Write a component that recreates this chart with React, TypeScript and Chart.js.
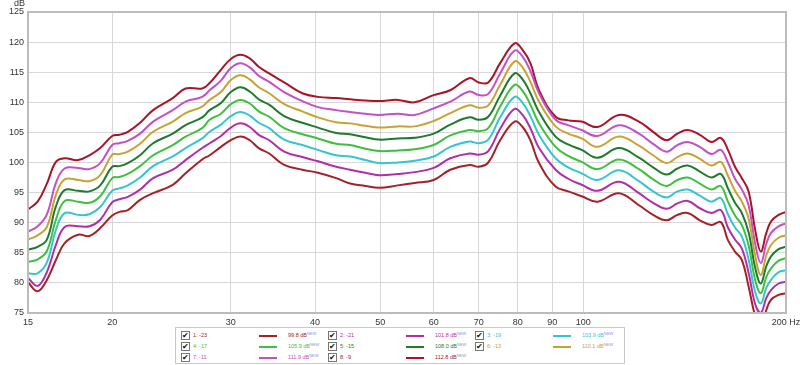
import React, { useEffect, useRef } from "react";
import { Chart, registerables } from "chart.js";

Chart.register(...registerables);

const freqs = [15, 15.5, 16, 16.5, 17, 17.8, 18.5, 19.2, 20, 20.5, 21.1, 22, 23, 24.6, 25.7, 27.2, 27.9, 29, 30, 31, 32, 33, 34.2, 36, 38.3, 40.4, 43, 45.1, 47.5, 49.8, 53.1, 56.2, 60, 63.5, 67.8, 70, 72.3, 75.3, 79.1, 81.3, 83.5, 86, 91, 95, 99.5, 105, 113, 121, 127, 133, 138, 143, 149, 155, 160, 164, 168, 172, 176, 180, 183.5, 187, 190, 195, 200];

const s1 = [80.1, 78.6, 80.5, 83.8, 86.6, 88.0, 87.8, 89.1, 91.2, 91.8, 92.1, 93.8, 94.9, 96.3, 98.2, 100.5, 101.2, 102.6, 103.7, 104.3, 103.7, 102.4, 101.5, 99.6, 98.8, 98.3, 97.4, 96.5, 96.1, 95.8, 96.2, 96.6, 97.1, 98.8, 99.6, 99.3, 100.0, 103.7, 106.8, 105.9, 103.7, 99.9, 96.0, 95.2, 94.4, 93.5, 94.9, 92.9, 91.3, 90.4, 91.3, 91.6, 90.4, 89.6, 90.1, 87.1, 85.2, 83.8, 79.4, 74.5, 72.5, 75.5, 77.2, 78.0, 78.3];
const s2 = [80.8, 79.5, 81.8, 86.3, 89.3, 89.4, 89.4, 90.5, 93.4, 93.9, 94.3, 95.5, 97.4, 98.8, 100.4, 102.4, 103.2, 104.4, 105.8, 106.5, 105.9, 104.6, 103.7, 101.8, 100.9, 100.2, 99.3, 98.8, 98.3, 97.9, 98.1, 98.4, 99.1, 100.7, 101.5, 101.3, 101.9, 105.6, 108.9, 107.9, 105.7, 102.4, 98.8, 97.3, 96.3, 95.3, 96.8, 94.9, 93.3, 92.3, 93.2, 93.6, 92.4, 91.6, 92.1, 89.2, 87.2, 85.7, 81.7, 76.5, 75.0, 77.5, 78.8, 79.9, 80.2];
const s3 = [81.6, 81.6, 83.4, 88.8, 91.6, 91.3, 91.4, 92.6, 95.3, 95.7, 96.2, 97.5, 99.4, 101.0, 102.4, 104.0, 105.1, 106.3, 107.7, 108.4, 107.8, 106.6, 105.7, 103.8, 102.9, 102.1, 101.2, 101.0, 100.4, 99.9, 100.0, 100.3, 101.0, 102.6, 103.5, 103.2, 103.8, 107.5, 110.9, 109.9, 107.7, 104.6, 100.7, 99.2, 98.2, 97.1, 98.7, 96.9, 95.2, 94.2, 95.2, 95.5, 94.5, 93.5, 94.1, 91.4, 89.2, 87.7, 83.9, 78.5, 76.6, 79.2, 80.5, 81.8, 82.1];
const s4 = [83.5, 83.9, 85.3, 90.5, 93.6, 93.5, 93.3, 94.4, 97.4, 97.6, 98.1, 99.4, 101.2, 102.9, 104.3, 105.7, 107.1, 108.1, 109.7, 110.4, 109.8, 108.5, 107.6, 105.7, 104.7, 104.0, 103.1, 102.9, 102.3, 101.9, 102.0, 102.2, 102.9, 104.5, 105.4, 105.2, 105.7, 109.3, 112.9, 111.9, 109.6, 106.5, 102.6, 101.1, 100.1, 98.9, 100.5, 98.9, 97.2, 96.1, 97.1, 97.5, 96.5, 95.5, 96.1, 93.5, 91.2, 89.6, 86.2, 80.5, 78.3, 81.0, 82.4, 83.7, 84.1];
const s5 = [85.5, 86.0, 87.2, 92.7, 95.4, 95.3, 95.2, 96.2, 99.3, 99.4, 99.9, 101.2, 103.2, 104.8, 106.2, 107.5, 108.7, 109.9, 111.7, 112.5, 111.8, 110.5, 109.6, 107.7, 106.6, 105.8, 104.9, 104.7, 104.2, 103.8, 104.0, 104.1, 104.8, 106.3, 107.5, 107.1, 107.6, 111.1, 114.8, 113.8, 111.5, 108.4, 104.3, 103.0, 102.1, 100.8, 102.4, 100.8, 99.2, 98.0, 99.0, 99.5, 98.5, 97.5, 98.1, 95.7, 93.3, 91.6, 88.4, 82.5, 79.9, 82.8, 84.4, 85.6, 86.0];
const s6 = [87.2, 87.9, 89.3, 94.6, 97.2, 97.1, 96.9, 97.9, 101.3, 101.4, 101.8, 103.1, 105.1, 106.8, 108.2, 109.3, 110.4, 111.7, 113.7, 114.5, 113.8, 112.5, 111.5, 109.7, 108.5, 107.5, 106.7, 106.5, 106.1, 105.8, 106.0, 106.0, 106.9, 108.2, 109.5, 109.1, 109.5, 112.9, 116.8, 115.8, 113.4, 110.1, 106.0, 104.8, 104.0, 102.6, 104.3, 102.8, 101.2, 99.9, 100.9, 101.5, 100.6, 99.5, 100.1, 97.8, 95.3, 93.5, 90.7, 84.5, 81.3, 84.6, 86.3, 87.5, 87.9];
const s7 = [88.5, 89.4, 91.4, 96.6, 99.0, 99.1, 98.9, 99.9, 102.9, 103.2, 103.6, 104.8, 106.8, 108.7, 110.1, 110.9, 112.0, 113.6, 115.7, 116.5, 115.8, 114.4, 113.4, 111.7, 110.2, 109.2, 108.7, 108.4, 108.1, 107.9, 108.1, 107.9, 109.0, 110.1, 111.8, 111.2, 111.4, 114.8, 118.6, 117.6, 115.2, 111.5, 107.1, 106.2, 105.4, 104.4, 106.2, 104.8, 103.1, 101.8, 102.9, 103.4, 102.6, 101.4, 102.1, 100.0, 97.3, 95.5, 92.9, 86.5, 83.3, 86.5, 88.3, 89.4, 89.9];
const s8 = [92.2, 93.5, 96.5, 100.1, 100.7, 100.4, 101.2, 102.4, 104.4, 104.6, 105.1, 106.6, 108.7, 110.7, 112.3, 112.3, 113.2, 115.4, 117.2, 117.9, 117.3, 115.9, 114.8, 113.3, 111.5, 110.9, 110.7, 110.5, 110.3, 110.2, 110.4, 110.0, 111.2, 112.0, 114.0, 113.3, 113.3, 116.5, 119.8, 118.7, 116.5, 112.0, 107.6, 107.0, 106.8, 105.9, 107.9, 106.8, 105.1, 103.7, 104.8, 105.4, 104.6, 103.4, 104.1, 102.1, 99.3, 97.4, 95.2, 88.8, 85.2, 88.3, 90.2, 91.3, 91.8];

const seriesValues = [s1, s2, s3, s4, s5, s6, s7, s8];
const seriesNames = ["1: -23", "2: -21", "3: -19", "4: -17", "5: -15", "6: -13", "7: -11", "8: -9"];
const seriesLevels = ["99.8 dB", "101.8 dB", "103.9 dB", "105.9 dB", "108.0 dB", "110.1 dB", "111.9 dB", "112.8 dB"];
const seriesColors = ["#a3222a", "#b02fa8", "#35c5cf", "#3fbf3f", "#1f7a2c", "#c9a236", "#c350c4", "#a8142c"];

const xTicks = [15, 20, 30, 40, 50, 60, 70, 80, 90, 100, 200];
const yTicks = [75, 80, 85, 90, 95, 100, 105, 110, 115, 120, 125];

const FONT = "Arial, 'Liberation Sans', sans-serif";

const framePlugin = {
  id: "frame",
  afterDraw(chart: any) {
    const { ctx, chartArea } = chart;
    ctx.save();
    ctx.strokeStyle = "#bcbcbc";
    ctx.lineWidth = 2;
    ctx.strokeRect(chartArea.left, chartArea.top, chartArea.right - chartArea.left, chartArea.bottom - chartArea.top);
    ctx.fillStyle = "#333";
    ctx.font = "9px " + FONT;
    ctx.textAlign = "right";
    ctx.textBaseline = "middle";
    ctx.fillText("dB", 25, 4);
    ctx.restore();
  },
};

function LegendBox() {
  return (
    <div
      style={{
        position: "absolute",
        left: 175,
        top: 327,
        width: 448,
        height: 35,
        border: "1px solid #c9c9c9",
        background: "#fff",
        fontFamily: FONT,
        fontSize: 5.5,
      }}
    >
      {seriesNames.map((name, i) => {
        const col = i % 3;
        const row = Math.floor(i / 3);
        const x0 = 5 + col * 147;
        const y0 = 3 + row * 11;
        const color = seriesColors[i];
        return (
          <React.Fragment key={name}>
            <span
              style={{
                position: "absolute",
                left: x0,
                top: y0,
                width: 7,
                height: 7,
                border: "1px solid #777",
                background: "#fff",
                fontSize: 8,
                lineHeight: "7px",
                textAlign: "center",
                color: "#111",
              }}
            >
              ✔
            </span>
            <span style={{ position: "absolute", left: x0 + 12, top: y0 + 1, lineHeight: "7px", color, whiteSpace: "nowrap" }}>{name}</span>
            <span
              style={{
                position: "absolute",
                left: x0 + 78,
                top: y0 + 4,
                width: 18,
                height: 2,
                background: color,
              }}
            />
            <span style={{ position: "absolute", left: x0 + 107, top: y0 + 1, lineHeight: "7px", color, whiteSpace: "nowrap" }}>
              {seriesLevels[i]}
              <span style={{ fontSize: 4, color: "#8f8fe0", position: "relative", top: -2 }}>NEW</span>
            </span>
          </React.Fragment>
        );
      })}
    </div>
  );
}

export default function App() {
  const ref = useRef<HTMLCanvasElement | null>(null);

  useEffect(() => {
    if (!ref.current) return;
    const chart = new Chart(ref.current, {
      type: "line",
      data: {
        datasets: seriesValues.map((vals, i) => ({
          label: seriesNames[i],
          data: freqs.map((f, j) => ({ x: f, y: vals[j] })),
          borderColor: seriesColors[i],
          backgroundColor: seriesColors[i],
          borderWidth: 2,
          pointRadius: 0,
          fill: false,
          tension: 0.4,
        })),
      },
      options: {
        responsive: false,
        animation: false,
        events: [],
        layout: { padding: { top: 12, right: 14, left: 0, bottom: 0 } },
        plugins: { legend: { display: false }, tooltip: { enabled: false } },
        scales: {
          x: {
            type: "logarithmic",
            min: 15,
            max: 200,
            afterBuildTicks: (scale: any) => {
              scale.ticks = xTicks.map((v) => ({ value: v }));
            },
            afterFit: (scale: any) => {
              scale.height = 52;
              scale.paddingLeft = 0;
              scale.paddingRight = 0;
            },
            ticks: {
              autoSkip: false,
              maxRotation: 0,
              minRotation: 0,
              padding: 4,
              color: "#333",
              font: { size: 9, family: FONT },
              callback: (v: any) => (Number(v) === 200 ? "200 Hz" : String(v)),
            },
            grid: { color: "#d7d7d7", lineWidth: 1, drawTicks: false },
            border: { color: "#bcbcbc", width: 2 },
          },
          y: {
            type: "linear",
            min: 75,
            max: 125,
            afterBuildTicks: (scale: any) => {
              scale.ticks = yTicks.map((v) => ({ value: v }));
            },
            afterFit: (scale: any) => {
              scale.width = 28;
              scale.paddingTop = 0;
              scale.paddingBottom = 0;
            },
            ticks: {
              padding: 4,
              color: "#333",
              font: { size: 9, family: FONT },
              callback: (v: any) => String(v),
            },
            grid: { color: "#d7d7d7", lineWidth: 1, drawTicks: false },
            border: { color: "#bcbcbc", width: 2 },
          },
        },
      },
      plugins: [framePlugin],
    });
    return () => chart.destroy();
  }, []);

  return (
    <div style={{ position: "absolute", left: 0, top: 0, width: 800, height: 365, background: "#fff" }}>
      <canvas ref={ref} width={800} height={365} style={{ position: "absolute", left: 0, top: 0, width: 800, height: 365 }} />
      <LegendBox />
    </div>
  );
}
